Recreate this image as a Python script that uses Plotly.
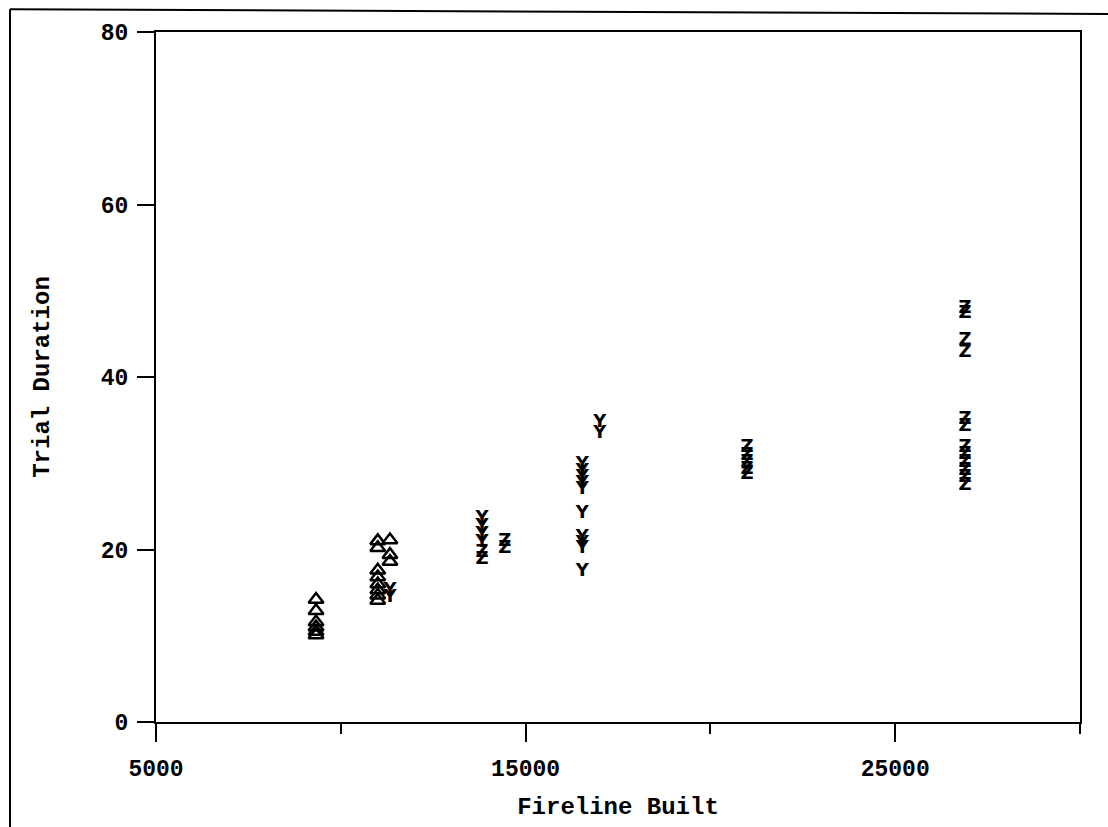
import plotly.graph_objects as go

# ---- data ----
tri_x = [9330] * 6 + [11000] * 8 + [11330] * 3
tri_y = [14.2, 12.9, 11.6, 11.0, 10.5, 10.1,
         21.0, 20.2, 17.6, 16.8, 16.0, 15.3, 14.7, 14.1,
         21.1, 19.4, 18.6]

y_x = [11330] * 2 + [13820] * 4 + [16530] * 10 + [17010] * 2
y_y = [15.2, 14.4,
       23.6, 22.7, 21.7, 20.8,
       29.9, 29.1, 28.3, 27.6, 27.0, 24.2, 21.4, 20.7, 20.1, 17.5,
       34.7, 33.5]

z_x = [13820] * 2 + [14440] * 2 + [20990] * 5 + [26890] * 12
z_y = [19.6, 18.8,
       20.9, 20.1,
       31.8, 30.9, 30.1, 29.3, 28.7,
       48.0, 47.4, 44.2, 42.8, 35.1, 34.3, 31.8, 31.0, 30.1, 29.2, 28.3, 27.4]

x_title = "Fireline Built"
y_title = "Trial Duration"
x_range = [5000, 30000]
y_range = [0, 80]

mark_font = dict(family="DejaVu Sans", size=18, color="black", weight="bold")

fig = go.Figure()
# triangle marks (thick hollow triangles)
fig.add_trace(go.Scatter(x=tri_x, y=tri_y, mode="markers",
                         marker=dict(symbol="triangle-up-open", size=13,
                                     color="black", line=dict(width=2.5, color="black")),
                         hoverinfo="skip", showlegend=False))
for xs, ys, ch in [(y_x, y_y, "Y"), (z_x, z_y, "Z")]:
    fig.add_trace(go.Scatter(x=xs, y=ys, mode="text", text=[ch] * len(xs),
                             textposition="middle center", textfont=mark_font,
                             hoverinfo="skip", showlegend=False))

axis_font = dict(family="Liberation Mono", size=23, color="black", weight="bold")
title_font = dict(family="Liberation Mono", size=24, color="black", weight="bold")

fig.update_layout(
    width=1108, height=827, autosize=False,
    margin=dict(l=156, r=28, t=32, b=105),
    paper_bgcolor="white", plot_bgcolor="white",
    showlegend=False, hovermode=False,
    xaxis=dict(range=x_range, tick0=5000, dtick=10000, tickformat="d",
               ticks="outside", ticklen=18, tickwidth=2, tickcolor="black",
               minor=dict(dtick=5000, tick0=5000, ticks="outside", ticklen=10,
                          tickwidth=2, tickcolor="black", showgrid=False),
               showline=True, linewidth=2, linecolor="black", mirror=True,
               showgrid=False, zeroline=False, tickfont=axis_font,
               ticklabelstandoff=6,
               title=dict(text=x_title, font=title_font, standoff=16)),
    yaxis=dict(range=y_range, tick0=0, dtick=20, ticks="outside",
               ticklen=17, tickwidth=2, tickcolor="black",
               showline=True, linewidth=2, linecolor="black", mirror=True,
               showgrid=False, zeroline=False, tickfont=axis_font,
               ticklabelstandoff=4,
               title=dict(text=y_title, font=title_font, standoff=44)),
)

# outer scan border (left and top edges)
fig.add_shape(type="line", xref="paper", yref="paper",
              x0=-0.158, y0=1.033, x1=1.05, y1=1.026,
              line=dict(color="black", width=2))
fig.add_shape(type="line", xref="paper", yref="paper",
              x0=-0.158, y0=1.033, x1=-0.158, y1=-0.16,
              line=dict(color="black", width=2))

fig.write_html("out.html", config={"displayModeBar": False})
